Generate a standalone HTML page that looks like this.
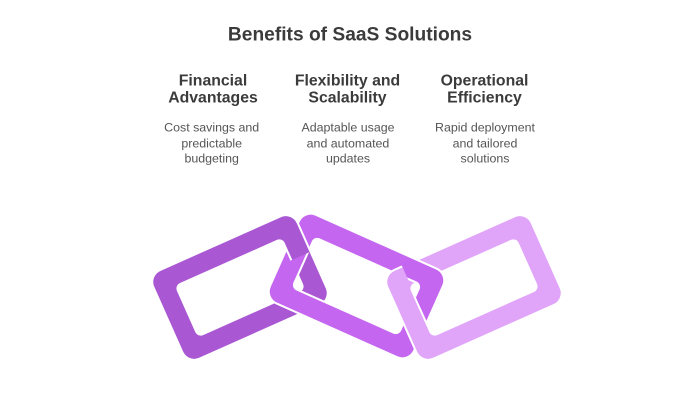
<!DOCTYPE html>
<html>
<head>
<meta charset="utf-8">
<style>
  html, body { margin: 0; padding: 0; background: #ffffff; }
  body { width: 700px; height: 400px; overflow: hidden; }
  svg { display: block; }
  .t { font-family: "Liberation Sans", Arial, sans-serif; }
</style>
</head>
<body>
<svg width="700" height="400" viewBox="0 0 700 400" xmlns="http://www.w3.org/2000/svg">
  <defs>
    <path id="ring" fill-rule="evenodd"
      d="M -66,-48.5 H 66 A13 13 0 0 1 79,-35.5 V 35.5 A13 13 0 0 1 66,48.5 H -66 A13 13 0 0 1 -79,35.5 V -35.5 A13 13 0 0 1 -66,-48.5 Z
         M -53,-27.5 H 53 A5 5 0 0 1 58,-22.5 V 22.5 A5 5 0 0 1 53,27.5 H -53 A5 5 0 0 1 -58,22.5 V -22.5 A5 5 0 0 1 -53,-27.5 Z"/>
    <!-- link1 on top of link2: upper part of link1's right end (link1 local frame) -->
    <clipPath id="c1" clipPathUnits="userSpaceOnUse">
      <rect x="25" y="-70" width="70" height="66" transform="translate(240,287.5) rotate(-24)"/>
    </clipPath>
    <!-- link2 on top of link3: upper half of link3, right of its left band (link3 local frame) -->
    <clipPath id="c2" clipPathUnits="userSpaceOnUse">
      <rect x="-57" y="-70" width="60" height="68" transform="translate(474,287.5) rotate(-24)"/>
    </clipPath>
  </defs>

  <rect width="700" height="400" fill="#ffffff"/>

  <!-- Title -->
  <text class="t" x="350" y="40.5" text-anchor="middle" font-size="19.2" font-weight="bold" fill="#3b3b3b">Benefits of SaaS Solutions</text>

  <!-- Headings -->
  <g class="t" font-size="15.8" font-weight="bold" fill="#3b3b3b" text-anchor="middle">
    <text x="213" y="85.7">Financial</text>
    <text x="213" y="102.3">Advantages</text>
    <text x="347.5" y="85.7">Flexibility and</text>
    <text x="347.5" y="102.3">Scalability</text>
    <text x="484.5" y="85.7">Operational</text>
    <text x="484.5" y="102.3">Efficiency</text>
  </g>

  <!-- Descriptions -->
  <g class="t" font-size="12.4" fill="#555555" text-anchor="middle">
    <text x="211.7" y="131.7">Cost savings and</text>
    <text x="211.7" y="147.3">predictable</text>
    <text x="211.7" y="162.7">budgeting</text>
    <text x="348" y="131.7">Adaptable usage</text>
    <text x="348" y="147.3">and automated</text>
    <text x="348" y="162.7">updates</text>
    <text x="485" y="131.7">Rapid deployment</text>
    <text x="485" y="147.3">and tailored</text>
    <text x="485" y="162.7">solutions</text>
  </g>

  <!-- Chain links -->
  <use href="#ring" transform="translate(240,287.5) rotate(-24)" fill="#A957D3" stroke="#ffffff" stroke-width="2"/>
  <use href="#ring" transform="translate(356.5,286) rotate(24)" fill="#C466F0" stroke="#ffffff" stroke-width="2"/>
  <g clip-path="url(#c1)">
    <use href="#ring" transform="translate(240,287.5) rotate(-24)" fill="#A957D3" stroke="#ffffff" stroke-width="2"/>
  </g>
  <use href="#ring" transform="translate(474,287.5) rotate(-24)" fill="#E0A4F9" stroke="#ffffff" stroke-width="2"/>
  <g clip-path="url(#c2)">
    <use href="#ring" transform="translate(356.5,286) rotate(24)" fill="#C466F0" stroke="#ffffff" stroke-width="2"/>
  </g>
</svg>
</body>
</html>
